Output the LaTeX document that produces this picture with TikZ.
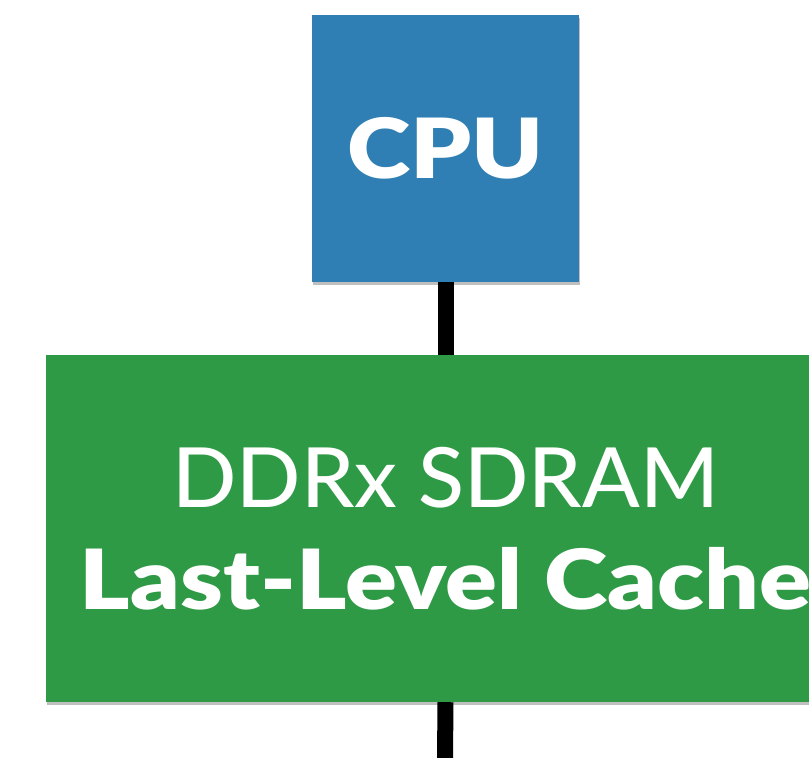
\documentclass[tikz,border=0pt]{standalone}
\usepackage{fontspec}
\setmainfont{Lato}[UprightFont={Lato Medium},UprightFeatures={FakeStretch=1.02},
    BoldFont={Lato Black},BoldFeatures={FakeStretch=1.16}]
\usetikzlibrary{positioning,shadows}
\definecolor{cpublue}{HTML}{2F7FB4}
\definecolor{memgreen}{HTML}{2E9A45}

\begin{document}
\begin{tikzpicture}[x=1pt,y=1pt,on grid,
    box/.style={inner sep=0pt,text=white,align=center,
        drop shadow={shadow xshift=1pt,shadow yshift=-3pt,opacity=.25,fill=black}},
    cpubox/.style={box,fill=cpublue,minimum width=267pt,minimum height=267pt,
        font=\fontsize{83}{100}\selectfont\bfseries},
    membox/.style={box,fill=memgreen,minimum width=800pt,minimum height=347pt,
        font=\fontsize{83}{102}\selectfont},
    bus/.style={line width=16pt,black}]
    \useasboundingbox (0,0) rectangle (809,758);
    \clip (0,0) rectangle (809,758);
    \node[cpubox] (cpu) at (445.5,609.5) {CPU};
    \node[membox,below=380pt of cpu] (mem) {DDRx SDRAM\\\textbf{Last-Level Cache}};
    \coordinate (out) at (445,0);
    \draw[bus] (cpu.south) -- (mem.north);
    \draw[bus] (mem.south) -- (out);
\end{tikzpicture}
\end{document}
